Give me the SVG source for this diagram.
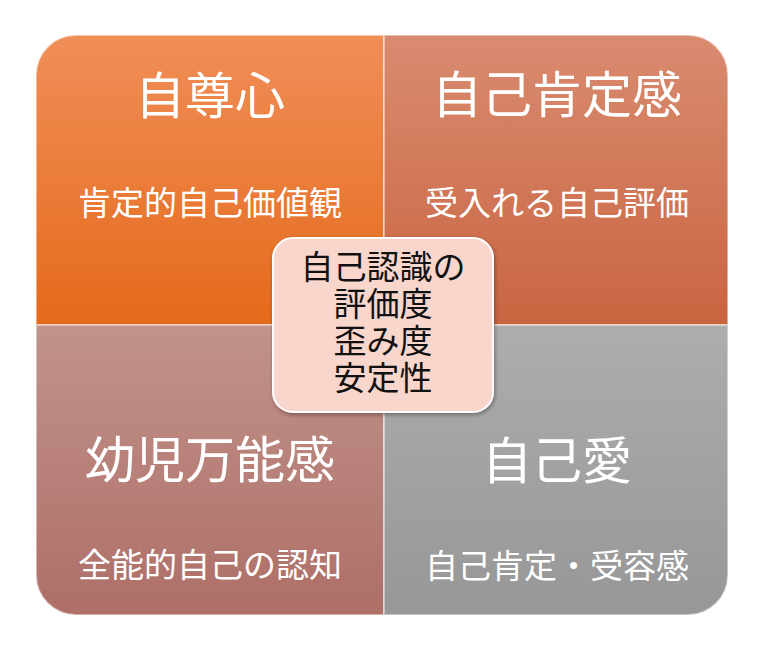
<svg xmlns="http://www.w3.org/2000/svg" width="768" height="647" viewBox="0 0 768 647">
<defs>
<linearGradient id="gTL" x1="0" y1="0" x2="0" y2="1"><stop offset="0" stop-color="#F08E58"/><stop offset="1" stop-color="#E56A1B"/></linearGradient>
<linearGradient id="gTR" x1="0" y1="0" x2="0" y2="1"><stop offset="0" stop-color="#D98B70"/><stop offset="1" stop-color="#C96541"/></linearGradient>
<linearGradient id="gBL" x1="0" y1="0" x2="0" y2="1"><stop offset="0" stop-color="#C1938B"/><stop offset="1" stop-color="#AE6F67"/></linearGradient>
<linearGradient id="gBR" x1="0" y1="0" x2="0" y2="1"><stop offset="0" stop-color="#ADADAD"/><stop offset="1" stop-color="#979797"/></linearGradient>
<filter id="sh" x="-10%" y="-10%" width="120%" height="120%"><feGaussianBlur in="SourceAlpha" stdDeviation="2"/><feOffset dx="1" dy="2"/><feComponentTransfer><feFuncA type="linear" slope="0.35"/></feComponentTransfer><feMerge><feMergeNode/><feMergeNode in="SourceGraphic"/></feMerge></filter>
</defs>
<style>
.q{stroke:#FFFFFF;stroke-opacity:0.45;stroke-width:2}
.t{font-family:"Noto Sans CJK JP","Noto Sans CJK SC",sans-serif;fill:#FFFFFF;text-anchor:middle;dominant-baseline:central}
.title{font-size:50px}
.sub{font-size:33px}
.c{font-family:"Noto Sans CJK JP","Noto Sans CJK SC",sans-serif;fill:#111111;font-size:33px;text-anchor:middle;dominant-baseline:central}
</style>
<rect width="768" height="647" fill="#FFFFFF"/>
<g id="quad-tl">
<path class="q" d="M36,325 V75 A40,40 0 0 1 76,35 H384 V325 Z" fill="url(#gTL)"/>
<text class="t title" x="210" y="92">自尊心</text>
<text class="t sub" x="210" y="201">肯定的自己価値観</text>
</g>
<g id="quad-tr">
<path class="q" d="M384,35 H688 A40,40 0 0 1 728,75 V325 H384 Z" fill="url(#gTR)"/>
<text class="t title" x="557" y="91">自己肯定感</text>
<text class="t sub" x="557" y="201">受入れる自己評価</text>
</g>
<g id="quad-bl">
<path class="q" d="M36,325 H384 V615 H76 A40,40 0 0 1 36,575 Z" fill="url(#gBL)"/>
<text class="t title" x="210" y="456">幼児万能感</text>
<text class="t sub" x="210" y="563">全能的自己の認知</text>
</g>
<g id="quad-br">
<path class="q" d="M384,325 H728 V575 A40,40 0 0 1 688,615 H384 Z" fill="url(#gBR)"/>
<text class="t title" x="557" y="457">自己愛</text>
<text class="t sub" x="557" y="564">自己肯定・受容感</text>
</g>
<g id="connectors"></g>
<g id="center">
<rect x="273" y="238" width="220" height="174" rx="20" ry="20" fill="#F8D6CC" stroke="#FFFFFF" stroke-width="2" filter="url(#sh)"/>
<text class="c" x="383" y="265">自己認識の</text>
<text class="c" x="383" y="302">評価度</text>
<text class="c" x="383" y="339">歪み度</text>
<text class="c" x="383" y="376">安定性</text>
</g>
</svg>
